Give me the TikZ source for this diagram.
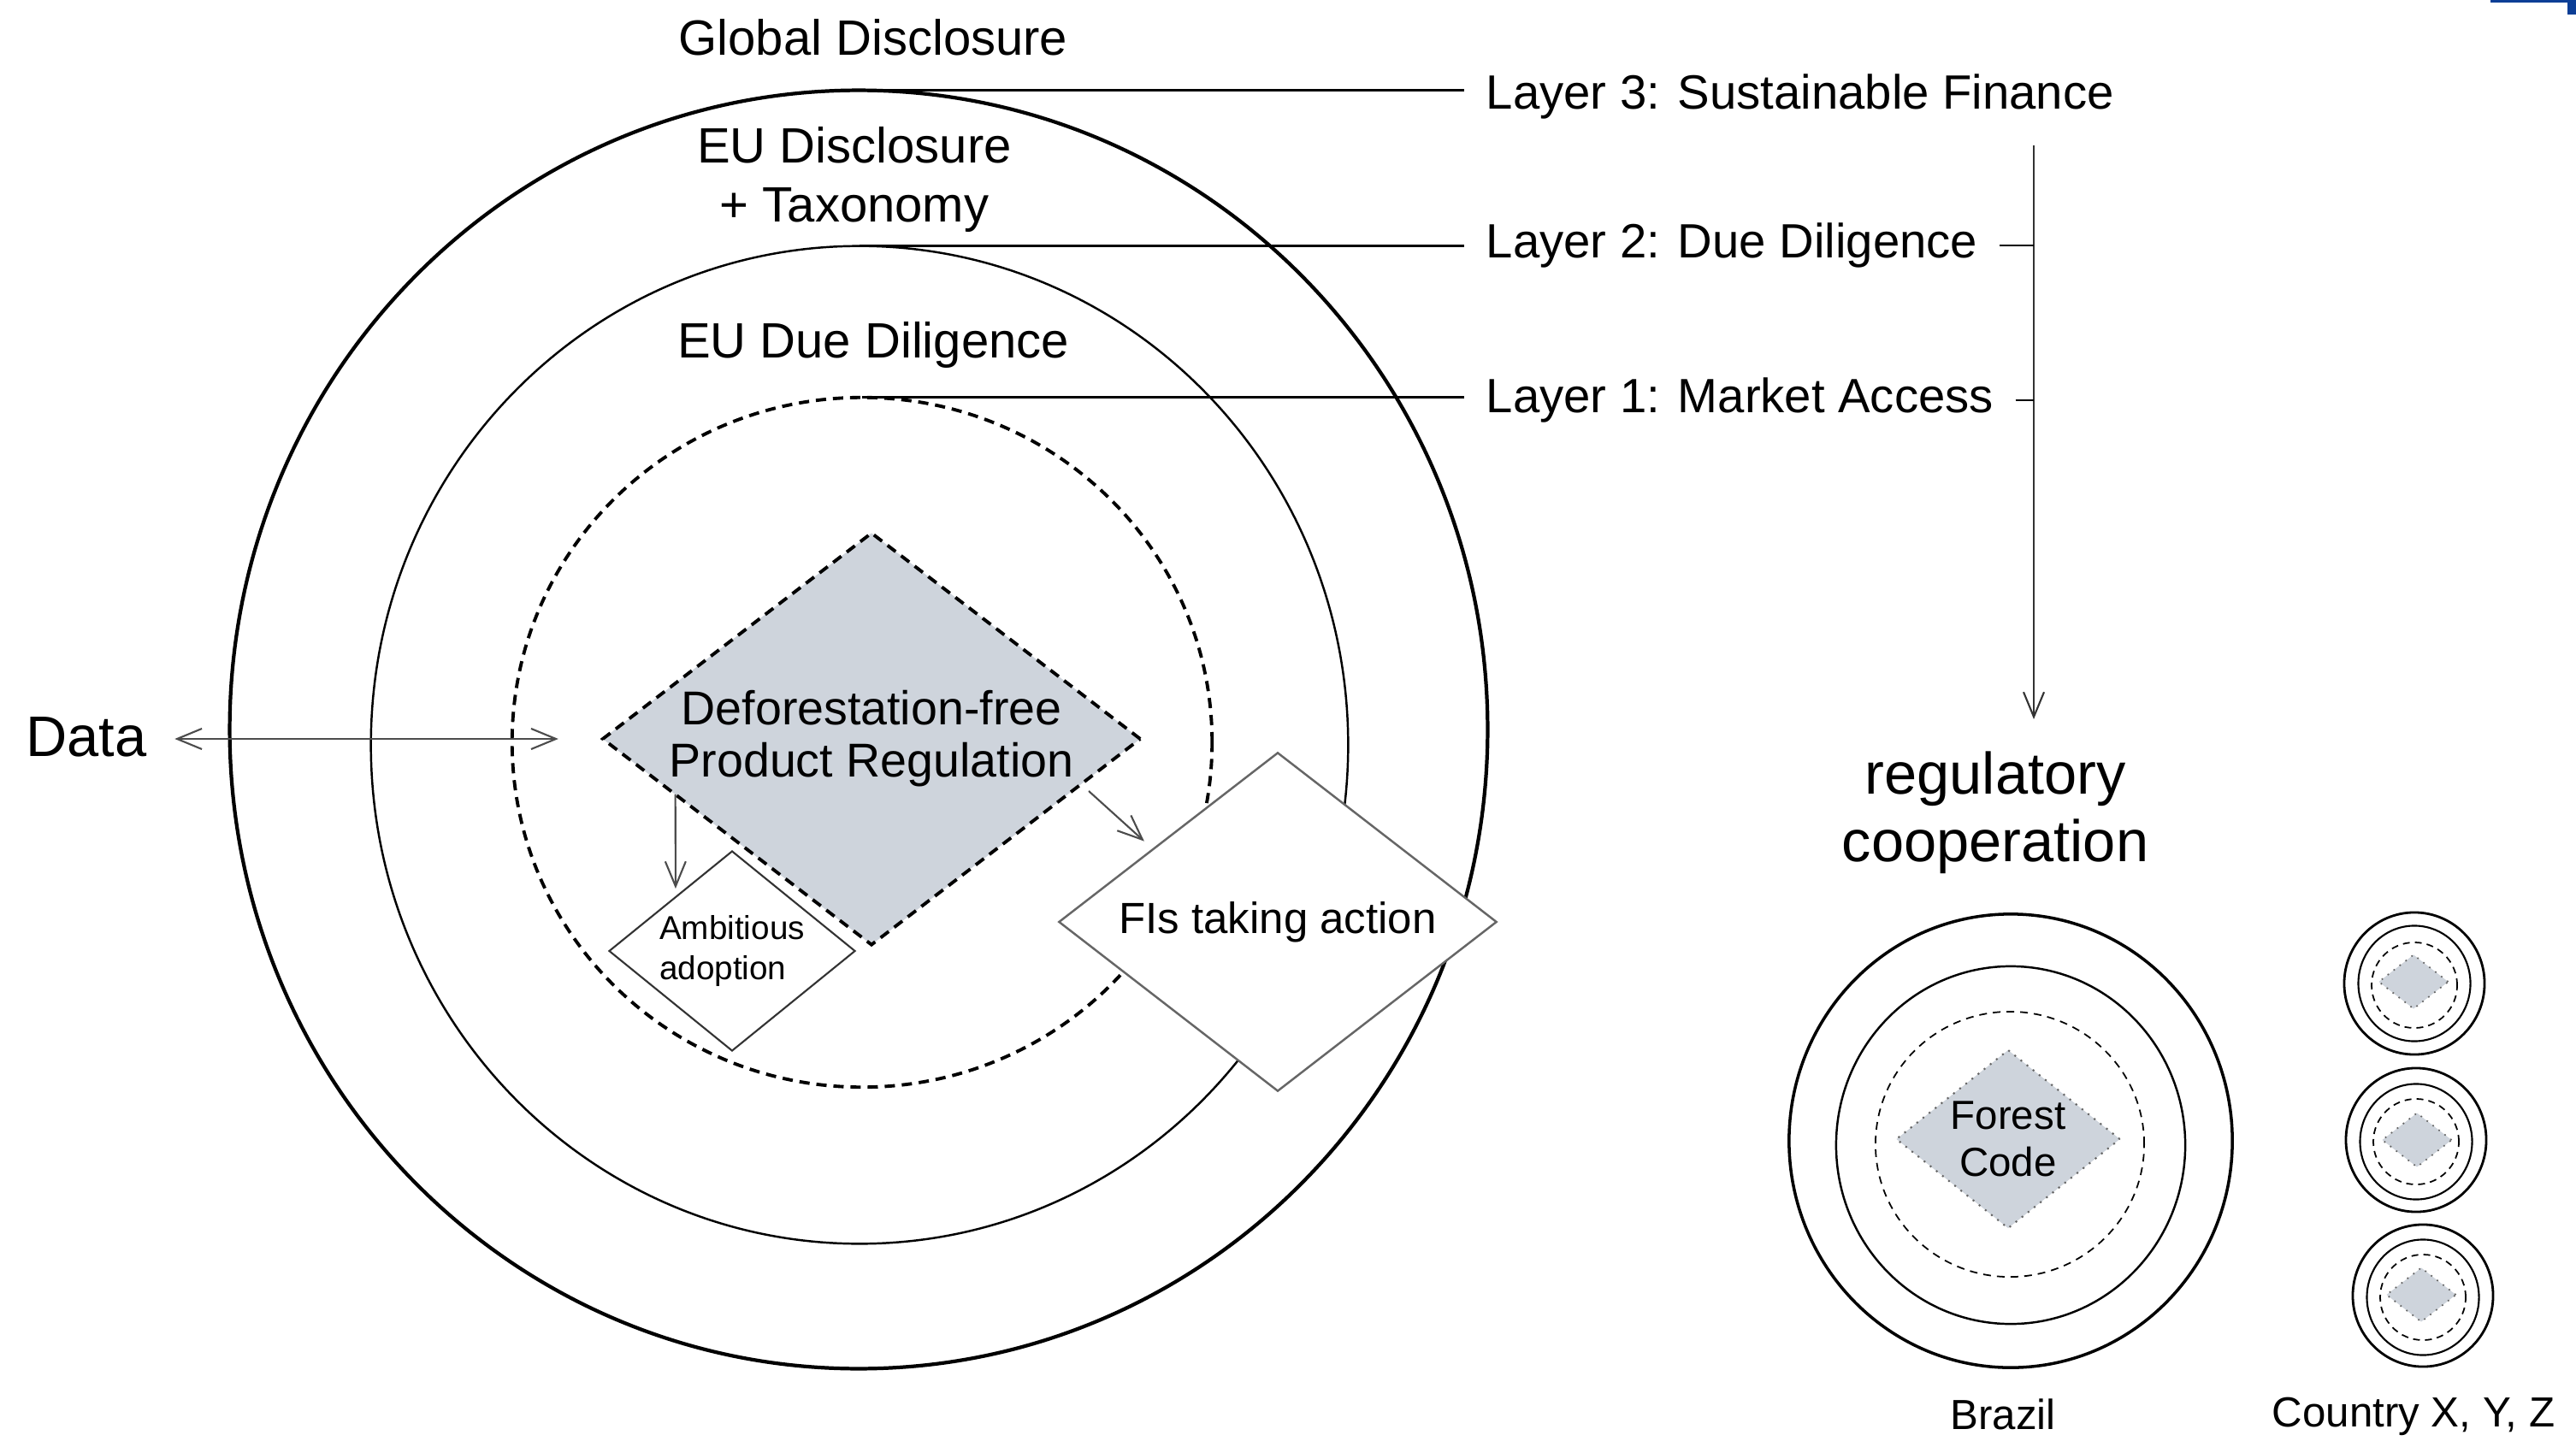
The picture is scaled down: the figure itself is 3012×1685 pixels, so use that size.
\documentclass[tikz,border=0pt]{standalone}
\usepackage{fontspec}
\setmainfont{Liberation Sans}
\usetikzlibrary{shapes.geometric,arrows.meta,calc}
\definecolor{fillgray}{RGB}{206,212,220}
\definecolor{cornerblue}{RGB}{12,62,150}
\begin{document}
\begin{tikzpicture}[x=0.01cm,y=-0.01cm,
  ring/.style={ellipse,draw,inner sep=0pt,outer sep=0pt},
  dashring/.style={ring,dash pattern=on 0.12cm off 0.08cm},
  lbl/.style={inner sep=0pt,font=\fontsize{16.5pt}{19pt}\selectfont},
  layerlbl/.style={anchor=west,inner sep=0.25cm,font=\fontsize{16pt}{19pt}\selectfont},
  tip/.style={-{Straight Barb[length=0.29cm,width=0.24cm]}},
  conn/.style={draw=black!70,line width=0.6pt,tip},
  leader/.style={line width=0.8pt},
  gdiamond/.style={diamond,draw,inner sep=0pt,outer sep=0pt},
  smallring/.style={ring,line width=0.6pt},
  smalldash/.style={ring,line width=0.5pt,dash pattern=on 0.08cm off 0.06cm},
  smalldia/.style={gdiamond,fill=fillgray,draw=black!60,line width=0.5pt,dotted,minimum width=0.81cm,minimum height=0.63cm}]
\useasboundingbox (0,0) rectangle (3012,1685);

% corner artefact
\fill[cornerblue] (2912,0) rectangle (3012,3);
\fill[cornerblue] (3002,0) rectangle (3012,17);

% main target
\node[ring,line width=1.2pt,minimum width=14.70cm,minimum height=14.94cm] (glob) at (1004,853) {};
\node[ring,line width=0.7pt,minimum width=11.42cm,minimum height=11.66cm] (eudd) at (1005,871) {};
\node[dashring,line width=1.1pt,minimum width=8.18cm,minimum height=8.06cm] (euma) at (1008,868) {};

% ring labels
\node[lbl] (tglob) at (1021,44) {Global Disclosure};
\node[lbl,align=center,font=\fontsize{16.5pt}{19.6pt}\selectfont] (teud) at (999,210) {EU Disclosure\\+ Taxonomy};
\node[lbl] (teudd) at (1021,403) {EU Due Diligence};

% diamonds
\node[gdiamond,fill=fillgray,line width=1.1pt,dash pattern=on 0.12cm off 0.08cm,shape aspect=1.3,
      minimum width=6.28cm,minimum height=4.81cm,align=center,
      font=\fontsize{15.8pt}{17.3pt}\selectfont] (dfpr) at (1019,864) {Deforestation-free\\Product Regulation};
\node[gdiamond,fill=white,draw=black!80,line width=0.6pt,shape aspect=1.23,
      minimum width=2.87cm,minimum height=2.33cm,align=left,
      font=\fontsize{11pt}{13.4pt}\selectfont] (amb) at (856,1112) {Ambitious\\adoption};
\node[gdiamond,fill=white,draw=black!60,line width=0.7pt,shape aspect=1.29,
      minimum width=5.11cm,minimum height=3.95cm,
      font=\fontsize{14.5pt}{17pt}\selectfont] (fis) at (1494,1078) {FIs taking action};

% connectors inside
\draw[conn,shorten >=0.1cm] ($(dfpr.west)!0.27!(dfpr.south)$) -- ($(amb.west)!0.54!(amb.north)$);
\draw[conn,shorten <=0.12cm,shorten >=0.14cm] ($(dfpr.east)!0.22!(dfpr.south)$) -- ($(fis.west)!0.43!(fis.north)$);

% data
\node[inner sep=0.15cm,font=\fontsize{19pt}{22pt}\selectfont] (data) at (101,862) {Data};
\draw[draw=black!70,line width=0.6pt,{Straight Barb[length=0.29cm,width=0.24cm]}-{Straight Barb[length=0.29cm,width=0.24cm]},shorten <=0.17cm,shorten >=0.52cm] (data.east |- dfpr.west) -- (dfpr.west);

% layer labels
\node[layerlbl] (l3) at (1712,113) {Layer 3: Sustainable Finance};
\node[layerlbl] (l2) at (1712,287) {Layer 2: Due Diligence};
\node[layerlbl] (l1) at (1712,468) {Layer 1: Market Access};
\draw[leader] (glob.north) -- (glob.north -| l3.west);
\draw[leader] (eudd.north) -- (eudd.north -| l2.west);
\draw[leader] (euma.north) -- (euma.north -| l1.west);

% regulatory cooperation
\coordinate (vtop) at (2378,170);
\coordinate (vbot) at (2378,841);
\node[inner sep=0pt,align=center,font=\fontsize{19.5pt}{22.4pt}\selectfont] (reg) at (2333,950) {regulatory\\cooperation};
\draw[conn,draw=black!80] (vtop) -- (vbot);
\draw[leader,line width=0.6pt] (l2.east) -- (l2.east -| vtop);
\draw[leader,line width=0.6pt] (l1.east) -- (l1.east -| vtop);

% Brazil target
\node[ring,line width=1.0pt,minimum width=5.18cm,minimum height=5.30cm] (bz3) at (2351,1334) {};
\node[ring,line width=0.7pt,minimum width=4.08cm,minimum height=4.18cm] (bz2) at (2351,1339) {};
\node[ring,line width=0.5pt,dash pattern=on 0.09cm off 0.07cm,minimum width=3.14cm,minimum height=3.10cm] (bz1) at (2350,1338) {};
\node[gdiamond,fill=fillgray,draw=black!60,line width=0.6pt,dotted,shape aspect=1.25,
      minimum width=2.61cm,minimum height=2.08cm,align=center,
      font=\fontsize{13.5pt}{15.6pt}\selectfont] (fc) at (2348,1332) {Forest\\Code};
\node[inner sep=0pt,font=\fontsize{14pt}{17pt}\selectfont] (brazil) at (2342,1654) {Brazil};

% Country X, Y, Z targets
\node[smallring,line width=0.8pt,minimum width=1.64cm,minimum height=1.66cm] (xa) at (2823,1150) {};
\node[smallring,minimum width=1.31cm,minimum height=1.35cm] (xb) at (2823,1150) {};
\node[smalldash,minimum width=1.0cm,minimum height=1.0cm] (xc) at (2823,1152) {};
\node[smalldia] (xd) at (2822,1148) {};

\node[smallring,line width=0.8pt,minimum width=1.64cm,minimum height=1.68cm] (ya) at (2825,1333) {};
\node[smallring,minimum width=1.31cm,minimum height=1.35cm] (yb) at (2825,1335) {};
\node[smalldash,minimum width=1.0cm,minimum height=1.0cm] (yc) at (2825,1335) {};
\node[smalldia] (yd) at (2826,1333) {};

\node[smallring,line width=0.8pt,minimum width=1.64cm,minimum height=1.66cm] (za) at (2833,1515) {};
\node[smallring,minimum width=1.31cm,minimum height=1.35cm] (zb) at (2833,1517) {};
\node[smalldash,minimum width=1.0cm,minimum height=1.0cm] (zc) at (2833,1517) {};
\node[smalldia] (zd) at (2831,1514) {};

\node[inner sep=0pt,font=\fontsize{14pt}{17pt}\selectfont] (ctry) at (2822,1656) {Country X, Y, Z};
\end{tikzpicture}
\end{document}
